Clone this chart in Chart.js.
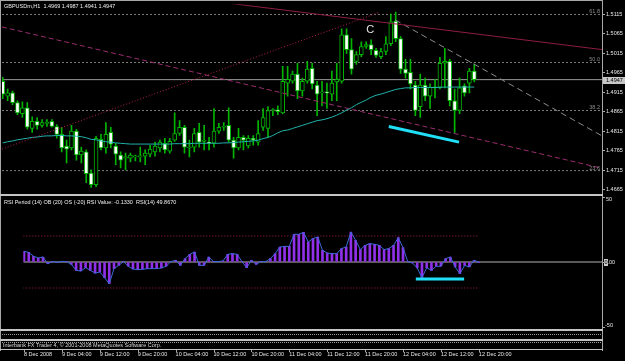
<!DOCTYPE html>
<html>
<head>
<meta charset="utf-8">
<title>GBPUSDm,H1</title>
<script src="https://cdn.jsdelivr.net/npm/chart.js@4.4.0/dist/chart.umd.min.js"></script>
<style>
  html, body { margin: 0; padding: 0; background: #000; }
  #wrap { position: relative; width: 625px; height: 361px; overflow: hidden; background: #000; }
  canvas { position: absolute; left: 0; }
</style>
</head>
<body>
<div id="wrap">
  <canvas id="priceChart" width="625" height="196" style="top:0"></canvas>
  <canvas id="rsiChart" width="625" height="165" style="top:196px"></canvas>
</div>
<script>
// H1 bars, 8 Dec 2008 20:00 .. 12 Dec 2008 20:00
const open = [1.4943,1.4905,1.4913,1.4888,1.4860,1.4875,1.4822,1.4840,1.4830,1.4835,
  1.4840,1.4827,1.4807,1.4777,1.4772,1.4815,1.4754,1.4762,1.4708,1.4678,
  1.4794,1.4772,1.4812,1.4777,1.4754,1.4746,1.4746,1.4749,1.4749,1.4751,
  1.4756,1.4762,1.4772,1.4784,1.4764,1.4792,1.4809,1.4825,1.4772,1.4774,
  1.4812,1.4789,1.4787,1.4784,1.4815,1.4825,1.4830,1.4792,1.4772,1.4799,
  1.4777,1.4797,1.4787,1.4825,1.4822,1.4868,1.4870,1.4862,1.4938,1.4943,
  1.4961,1.4918,1.4943,1.4976,1.4933,1.4913,1.4916,1.4910,1.4941,1.4943,
  1.5062,1.5024,1.4994,1.5011,1.5032,1.5037,1.5022,1.5006,1.5019,1.5039,
  1.5097,1.5052,1.4974,1.4966,1.4933,1.4878,1.4933,1.4905,1.4928,1.4928,
  1.4989,1.4994,1.4893,1.4868,1.4931,1.4938,1.4969];
const high = [1.4953,1.4923,1.4918,1.4893,1.4890,1.4888,1.4852,1.4850,1.4845,1.4845,
  1.4845,1.4832,1.4825,1.4792,1.4830,1.4820,1.4774,1.4767,1.4716,1.4802,
  1.4807,1.4837,1.4825,1.4784,1.4762,1.4759,1.4759,1.4754,1.4774,1.4767,
  1.4779,1.4787,1.4792,1.4797,1.4797,1.4862,1.4842,1.4830,1.4792,1.4822,
  1.4835,1.4830,1.4799,1.4873,1.4835,1.4837,1.4875,1.4799,1.4822,1.4804,
  1.4804,1.4804,1.4842,1.4873,1.4878,1.4873,1.4880,1.4981,1.4981,1.4969,
  1.4989,1.4951,1.4994,1.4989,1.4943,1.4943,1.4938,1.4969,1.4989,1.5077,
  1.5077,1.5052,1.5019,1.5044,1.5044,1.5049,1.5027,1.5027,1.5057,1.5115,
  1.5120,1.5057,1.4999,1.4999,1.4943,1.4961,1.4951,1.4936,1.4948,1.5004,
  1.5027,1.4999,1.4923,1.4951,1.4936,1.4976,1.4987];
const low = [1.4898,1.4893,1.4883,1.4857,1.4850,1.4820,1.4812,1.4820,1.4825,1.4827,
  1.4825,1.4797,1.4762,1.4734,1.4767,1.4741,1.4734,1.4683,1.4671,1.4673,
  1.4767,1.4759,1.4772,1.4729,1.4721,1.4716,1.4736,1.4739,1.4736,1.4729,
  1.4749,1.4751,1.4762,1.4759,1.4759,1.4789,1.4804,1.4759,1.4749,1.4762,
  1.4774,1.4767,1.4767,1.4774,1.4809,1.4817,1.4787,1.4746,1.4767,1.4767,
  1.4772,1.4779,1.4779,1.4817,1.4799,1.4855,1.4857,1.4860,1.4905,1.4938,
  1.4898,1.4905,1.4938,1.4923,1.4855,1.4880,1.4873,1.4893,1.4893,1.4938,
  1.5014,1.4961,1.4986,1.5006,1.5027,1.5011,1.5004,1.5001,1.5011,1.5034,
  1.5044,1.4963,1.4951,1.4923,1.4855,1.4850,1.4893,1.4873,1.4900,1.4923,
  1.4926,1.4880,1.4812,1.4860,1.4905,1.4913,1.4941];
const close = [1.4910,1.4913,1.4888,1.4862,1.4875,1.4825,1.4840,1.4830,1.4837,1.4837,
  1.4827,1.4807,1.4772,1.4769,1.4815,1.4754,1.4764,1.4706,1.4678,1.4797,
  1.4772,1.4807,1.4782,1.4756,1.4741,1.4749,1.4754,1.4751,1.4751,1.4759,
  1.4769,1.4777,1.4787,1.4767,1.4789,1.4809,1.4825,1.4774,1.4774,1.4809,
  1.4787,1.4792,1.4784,1.4815,1.4825,1.4827,1.4792,1.4772,1.4799,1.4792,
  1.4797,1.4792,1.4809,1.4850,1.4868,1.4870,1.4865,1.4943,1.4948,1.4961,
  1.4918,1.4943,1.4974,1.4936,1.4910,1.4916,1.4913,1.4938,1.4948,1.5062,
  1.5024,1.4974,1.5011,1.5032,1.5037,1.5024,1.5009,1.5019,1.5039,1.5095,
  1.5052,1.4974,1.4963,1.4936,1.4868,1.4933,1.4905,1.4928,1.4926,1.4989,
  1.4994,1.4893,1.4868,1.4926,1.4913,1.4969,1.4947];

// moving average (cyan line)
const maValues = [1.4785,1.4788,1.4790,1.4793,1.4795,1.4797,1.4799,1.4800,1.4802,1.4803,
  1.4803,1.4804,1.4804,1.4803,1.4803,1.4802,1.4801,1.4798,1.4794,1.4793,
  1.4790,1.4788,1.4787,1.4785,1.4784,1.4783,1.4782,1.4782,1.4782,1.4782,
  1.4782,1.4782,1.4782,1.4782,1.4782,1.4783,1.4783,1.4783,1.4783,1.4784,
  1.4784,1.4784,1.4784,1.4784,1.4784,1.4785,1.4785,1.4786,1.4787,1.4788,
  1.4789,1.4790,1.4792,1.4796,1.4799,1.4804,1.4811,1.4816,1.4818,1.4822,
  1.4826,1.4830,1.4834,1.4838,1.4842,1.4844,1.4847,1.4851,1.4856,1.4862,
  1.4869,1.4875,1.4883,1.4889,1.4895,1.4902,1.4907,1.4910,1.4914,1.4918,
  1.4922,1.4924,1.4926,1.4926,1.4927,1.4927,1.4927,1.4927,1.4927,1.4927,
  1.4928,1.4928,1.4928,1.4928,1.4928,1.4928,1.4928];

// RSI(14) - 50
const rsiValues = [8.2,7.4,4.4,3.1,3.8,-1.3,0.3,-0.3,0.5,0.2,
  -1.8,-6.4,-6.9,-4.4,-6.4,-8.5,-7.7,-12,-16.7,-5.1,
  -2.6,0.3,-3.3,-5.4,-5.9,-5.6,-5.1,-5.1,-5.1,-4.6,
  -3.3,0.3,1.3,-2.6,2.6,5.9,7.7,-2.6,-2.6,3.8,
  0.3,0.3,0.8,5.9,6.4,5.9,0.3,-4.4,1.3,-1.8,
  0.3,0.3,2.6,6.4,11.5,12,12,21.3,21.3,22.8,
  15.4,18,19.2,9,6.9,6.4,6.4,10.3,11.5,23,
  16.7,9.5,12.8,14.1,13.6,12.8,9.5,10.3,12.8,18.7,
  11,0.3,-0.8,-4.6,-12,-4.4,-6.4,-3.3,-3.3,2.6,
  3.8,-3.8,-9,-2.6,-3.8,1.3,-0.133];
const rsiOB = 20;
const rsiOS = -20;

const priceTicks = [1.5115, 1.5065, 1.5015, 1.4965, 1.4915, 1.4865, 1.4815, 1.4765, 1.4715, 1.4665];
const fibLevels = [1.5114, 1.4991, 1.4868, 1.4714];
const fibNames = ['61.8', '50.0', '38.2', '23.6'];

const timeTickBars = [0, 8, 16, 24, 32, 40, 48, 56, 64, 72, 80, 88, 96];
const timeTickLabels = ['8 Dec 2008', '9 Dec 04:00', '9 Dec 12:00', '9 Dec 20:00', '10 Dec 04:00',
  '10 Dec 12:00', '10 Dec 20:00', '11 Dec 04:00', '11 Dec 12:00', '11 Dec 20:00',
  '12 Dec 04:00', '12 Dec 12:00', '12 Dec 20:00'];

// drawn objects, [bar, price]
const channelTop = [[40.2, 1.5152], [122, 1.5024]];
const channelMid = [[-0.15, 1.5082], [122, 1.4720]];
const riseLine = [[-0.15, 1.4769], [76.8, 1.5120]];
const fallLine = [[79.9, 1.5100], [122, 1.4803]];
const cyanPrice = [[78.6, 1.4827], [92.9, 1.4787]];
const cyanRsi = [[82.7, -13], [92.9, -13]];
const cLabel = [74.8, 1.5075];

const X_MIN = -0.15, X_MAX = 122;
const FONT = '"Liberation Sans", Arial, sans-serif';
const last = close.length - 1;
const bidPrice = close[last];
const headerText = 'GBPUSDm,H1  ' + [open[last], high[last], low[last], close[last]].map(v => v.toFixed(4)).join(' ');
const rsiHeader = 'RSI Period (14) OB (20) OS (-20) RSI Value: ' + rsiValues[last].toFixed(4) +
  '  RSI(14) ' + (rsiValues[last] + 50).toFixed(4);

Chart.defaults.font.family = FONT;
Chart.defaults.font.size = 5.5;
Chart.defaults.color = '#e8e8e8';

const barIndex = open.map((_, i) => i);
const pts = seg => seg.map(p => ({ x: p[0], y: p[1] }));
const hline = v => [{ x: X_MIN, y: v }, { x: X_MAX, y: v }];

function objLine(seg, color, dash, width, order) {
  return { type: 'line', data: pts(seg), borderColor: color, borderWidth: width || 1,
    borderDash: dash || [], pointRadius: 0, order: order || 2 };
}

const mainDecor = {
  id: 'mainDecor',
  afterDraw(chart) {
    const { ctx, chartArea, scales: { x, y } } = chart;
    ctx.save();
    ctx.fillStyle = '#a8a8a8';
    ctx.fillRect(0, 0, 603, 1);
    ctx.fillRect(0, 0, 1, chart.height);
    ctx.fillRect(602, 0, 1, chart.height);
    ctx.fillStyle = '#c4c4c4';
    ctx.fillRect(0, 194, 603, 2);

    ctx.font = '5.5px ' + FONT;
    ctx.textBaseline = 'middle';
    ctx.textAlign = 'left';
    ctx.fillStyle = '#f0f0f0';
    ctx.fillText(headerText, 4, 6);

    ctx.fillStyle = '#8c8c8c';
    ctx.textAlign = 'right';
    ctx.textBaseline = 'alphabetic';
    fibLevels.forEach((lv, k) => ctx.fillText(fibNames[k], chartArea.right - 2, y.getPixelForValue(lv) - 1));

    ctx.font = '11px ' + FONT;
    ctx.textAlign = 'center';
    ctx.textBaseline = 'middle';
    ctx.fillStyle = '#e4e4e4';
    ctx.fillText('C', x.getPixelForValue(cLabel[0]), y.getPixelForValue(cLabel[1]));

    const by = y.getPixelForValue(bidPrice);
    ctx.fillStyle = '#c8c8c8';
    ctx.fillRect(603, Math.round(by) - 3, 22, 7);
    ctx.font = '5.5px ' + FONT;
    ctx.textAlign = 'left';
    ctx.fillStyle = '#000';
    ctx.fillText(bidPrice.toFixed(4), 606, by + 0.5);
    ctx.restore();
  }
};

const rsiDecor = {
  id: 'rsiDecor',
  afterDraw(chart) {
    const { ctx, scales: { x, y } } = chart;
    ctx.save();
    ctx.fillStyle = '#a8a8a8';
    ctx.fillRect(0, 0, 1, 155);
    ctx.fillRect(602, 0, 1, 155);
    ctx.fillStyle = '#c4c4c4';
    ctx.fillRect(0, 133, 603, 2);
    ctx.fillRect(0, 143, 603, 2);
    ctx.fillRect(0, 153, 603, 1);
    ctx.strokeStyle = '#9a9a9a';
    ctx.setLineDash([1, 1]);
    ctx.beginPath();
    ctx.moveTo(0, 138.5); ctx.lineTo(603, 138.5);
    ctx.moveTo(0, 146.5); ctx.lineTo(603, 146.5);
    ctx.stroke();
    ctx.setLineDash([]);

    ctx.font = '5.5px ' + FONT;
    ctx.textBaseline = 'middle';
    ctx.textAlign = 'left';
    ctx.fillStyle = '#f0f0f0';
    ctx.fillText(rsiHeader, 4, 6);
    ctx.fillStyle = '#d8d8d8';
    ctx.fillText('Interbank FX Trader 4, \u00a9 2001-2008 MetaQuotes Software Corp.', 3, 149.5);

    ctx.fillStyle = '#e8e8e8';
    ctx.fillText('50', 606, y.getPixelForValue(50) + 2.5);
    ctx.fillText('-50', 605, y.getPixelForValue(-50) - 2);
    const zy = y.getPixelForValue(0);
    ctx.fillStyle = '#c8c8c8';
    ctx.fillRect(604, Math.round(zy) - 3, 4, 7);
    ctx.fillStyle = '#000';
    ctx.fillText('0', 604.5, zy + 0.5);
    ctx.fillStyle = '#e8e8e8';
    ctx.fillText('.00', 607.5, zy + 0.5);

    ctx.fillStyle = '#a8a8a8';
    x.ticks.forEach(t => ctx.fillRect(Math.round(x.getPixelForValue(t.value)), 154, 1, 2));
    ctx.restore();
  }
};

const priceCtx = document.getElementById('priceChart').getContext('2d');
new Chart(priceCtx, {
  type: 'bar',
  data: {
    datasets: [
      // candle bodies: white = bear, black = bull (MT4 green on black)
      {
        data: barIndex.map(i => ({ x: i, y: [open[i], close[i]] })),
        backgroundColor: barIndex.map(i => close[i] < open[i] ? '#ffffff' : '#000000'),
        borderColor: '#00b400',
        borderWidth: 1,
        borderSkipped: false,
        barThickness: 4,
        minBarLength: 1,
        grouped: false,
        order: 4,
      },
      {
        data: barIndex.map(i => ({ x: i, y: [low[i], high[i]] })),
        backgroundColor: '#00b400',
        borderWidth: 0,
        barThickness: 1,
        grouped: false,
        order: 5,
      },
      {
        type: 'line',
        data: barIndex.map(i => ({ x: i, y: maValues[i] })),
        borderColor: '#20b2aa',
        borderWidth: 1,
        pointRadius: 0,
        order: 3,
      },
      ...fibLevels.map(lv => ({ type: 'line', data: hline(lv), borderColor: '#7c7c7c',
        borderWidth: 1, borderDash: [2, 2], pointRadius: 0, order: 10 })),
      { type: 'line', data: hline(bidPrice), borderColor: '#9a9a9a', borderWidth: 1, pointRadius: 0, order: 9 },
      objLine(channelTop, '#8e1d44'),
      objLine(channelMid, '#9b2d6e', [5, 3]),
      objLine(riseLine, '#b0204e', [1, 2]),
      objLine(fallLine, '#8c8c8c', [6, 4]),
      objLine(cyanPrice, '#20e0f8', [], 3, 1),
    ]
  },
  options: {
    responsive: false,
    animation: false,
    devicePixelRatio: 1,
    events: [],
    layout: { padding: { left: 2, top: 2, bottom: 4, right: 0 } },
    plugins: { legend: { display: false }, tooltip: { enabled: false } },
    scales: {
      x: { type: 'linear', display: false, min: X_MIN, max: X_MAX, offset: false },
      y: {
        position: 'right',
        min: 1.4660,
        max: 1.5140,
        afterBuildTicks: s => { s.ticks = priceTicks.map(v => ({ value: v })); },
        afterFit: s => { s.width = 23; },
        ticks: { callback: v => v.toFixed(4), padding: 1, color: '#e8e8e8' },
        grid: { drawOnChartArea: false, tickLength: 3, color: '#a8a8a8' },
        border: { color: '#a8a8a8' }
      }
    }
  },
  plugins: [mainDecor]
});

const rsiCtx = document.getElementById('rsiChart').getContext('2d');
new Chart(rsiCtx, {
  type: 'bar',
  data: {
    datasets: [
      {
        data: barIndex.map(i => ({ x: i, y: rsiValues[i] })),
        backgroundColor: '#9030e8',
        borderWidth: 0,
        barThickness: 2,
        grouped: false,
        order: 4,
      },
      {
        type: 'line',
        data: barIndex.map(i => ({ x: i, y: rsiValues[i] })),
        borderColor: '#3a6ad8',
        borderWidth: 1,
        pointRadius: 0,
        order: 3,
      },
      { type: 'line', data: hline(0), borderColor: '#b4b4b4', borderWidth: 1, pointRadius: 0, order: 6 },
      { type: 'line', data: [{ x: X_MIN, y: rsiOB }, { x: last, y: rsiOB }], borderColor: '#a5204d',
        borderWidth: 1, borderDash: [1, 2], pointRadius: 0, order: 6 },
      { type: 'line', data: [{ x: X_MIN, y: rsiOS }, { x: last, y: rsiOS }], borderColor: '#a5204d',
        borderWidth: 1, borderDash: [1, 2], pointRadius: 0, order: 6 },
      objLine(cyanRsi, '#20e0f8', [], 3, 1),
    ]
  },
  options: {
    responsive: false,
    animation: false,
    devicePixelRatio: 1,
    events: [],
    layout: { padding: { left: 2, top: 1, bottom: 0, right: 0 } },
    plugins: { legend: { display: false }, tooltip: { enabled: false } },
    scales: {
      x: {
        type: 'linear', min: X_MIN, max: X_MAX, offset: false, position: 'bottom',
        afterBuildTicks: s => { s.ticks = timeTickBars.map(v => ({ value: v })); },
        afterFit: s => { s.height = 34; },
        ticks: {
          callback: v => timeTickLabels[timeTickBars.indexOf(v)],
          align: 'start', autoSkip: false, maxRotation: 0, minRotation: 0,
          padding: 24, color: '#e8e8e8'
        },
        grid: { display: false, drawTicks: false, tickLength: 0 },
        border: { display: false }
      },
      y: {
        position: 'right',
        min: -50,
        max: 50,
        afterBuildTicks: s => { s.ticks = [50, 0, -50].map(v => ({ value: v })); },
        afterFit: s => { s.width = 23; },
        ticks: { display: false },
        grid: { drawOnChartArea: false, tickLength: 3, color: '#a8a8a8' },
        border: { color: '#a8a8a8' }
      }
    }
  },
  plugins: [rsiDecor]
});
</script>
</body>
</html>
